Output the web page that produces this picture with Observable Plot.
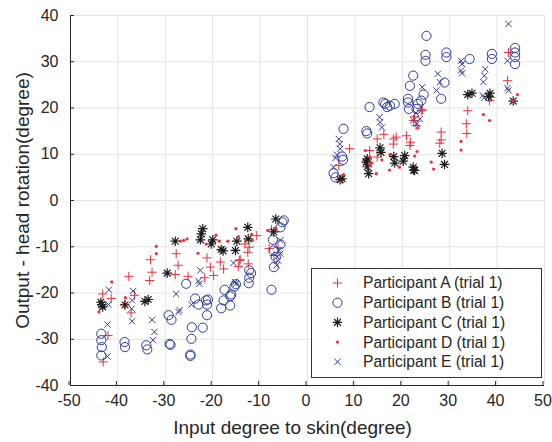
<!DOCTYPE html>
<html>
<head>
<meta charset="utf-8">
<script src="https://cdn.jsdelivr.net/npm/d3@7"></script>
<script src="https://cdn.jsdelivr.net/npm/@observablehq/plot@0.6"></script>
<style>
  body { margin: 0; background: #fff; }
  #chart { width: 552px; height: 442px; }
</style>
</head>
<body>
<div id="chart"></div>
<script>
// Head rotation measured against the angle applied to the skin, one trial per participant.
const seriesNames = [
  "Participant A (trial 1)",
  "Participant B (trial 1)",
  "Participant C (trial 1)",
  "Participant D (trial 1)",
  "Participant E (trial 1)"
];
const xTitle = "Input degree to skin(degree)";
const yTitle = "Output - head rotation(degree)";

// [input degree, output degree]
const partA = [
  [-43.2,-20.2],[-41.4,-21.2],[-42.1,-29.2],[-43.1,-34.9],[-37.7,-16.4],[-38.6,-22.5],[-36.5,-20.5],[-37.2,-24.3],
  [-33.1,-12.8],[-32.8,-15.5],[-33.3,-17.3],[-27.7,-11.5],[-27.3,-14.0],[-27.9,-16.0],[-25.2,-16.4],[-21.2,-12.4],
  [-20.5,-14.4],[-21.7,-16.7],[-18.4,-13.3],[-17.7,-14.8],[-19.8,-16.2],[-14.4,-13.0],[-14.6,-14.3],[-14.2,-12.8],
  [-12.5,-13.7],[-12.6,-11.2],[-13.2,-9.4],[-10.7,-7.6],[-7.6,-6.3],[-8.1,-10.4],[-6.2,-10.2],[-12.3,-10.1],[-7.1,-11.9],
  [8.9,11.2],[6.6,7.6],[14.7,13.3],[16.1,14.3],[13.1,10.8],[12.5,8.6],[14.7,9.4],[18.2,13.3],[18.7,13.7],[18.1,12.2],
  [20.9,14.0],[21.7,12.6],[21.6,11.9],[22.9,16.2],[22.4,17.3],[22.6,18.1],[24.3,19.6],[24.0,19.4],[28.2,14.8],[27.9,12.4],
  [28.2,13.1],[33.8,19.4],[33.5,16.6],[33.6,14.5],[38.4,21.6],[38.7,22.3],[42.2,25.9],[42.4,32.0]
];

const partB = [
  [-43.5,-28.8],[-43.5,-30.2],[-43.4,-31.7],[-43.5,-33.5],[-38.6,-30.6],[-38.5,-31.7],[-34.0,-31.3],[-33.8,-32.2],
  [-29.1,-31.0],[-28.9,-31.2],[-29.3,-24.8],[-28.7,-25.8],[-25.6,-18.0],[-24.4,-27.4],[-24.5,-29.9],[-24.7,-33.3],
  [-24.7,-33.6],[-23.7,-21.2],[-23.0,-22.5],[-21.4,-21.6],[-21.0,-21.4],[-21.2,-22.5],[-21.2,-24.8],[-22.1,-27.5],
  [-18.2,-23.3],[-17.7,-21.6],[-17.5,-19.3],[-16.3,-20.7],[-16.1,-20.3],[-16.3,-22.7],[-15.4,-18.6],[-15.1,-18.1],
  [-12.3,-15.1],[-11.9,-15.7],[-12.3,-16.7],[-12.4,-17.9],[-7.6,-19.3],[-7.1,-14.4],[-6.7,-12.2],[-7.1,-10.8],
  [-5.7,-9.5],[-5.3,-4.7],[-5.0,-4.3],[-5.7,-5.8],[-7.3,-8.5],
  [7.6,15.5],[7.3,9.5],[7.5,8.8],[5.5,5.9],[5.9,5.0],[12.4,15.0],[12.6,14.5],[13.1,20.2],[16.0,21.2],[16.4,20.9],
  [16.8,20.2],[17.4,20.5],[18.4,20.9],[21.2,22.0],[21.4,19.8],[21.2,21.2],[21.6,24.8],[22.3,27.0],[23.0,19.8],
  [24.5,22.9],[24.0,21.6],[23.3,20.9],[24.9,31.5],[24.9,30.2],[25.1,35.6],[29.3,32.0],[29.3,31.0],[34.2,30.6],
  [38.9,31.7],[38.9,30.6],[43.8,33.0],[43.8,32.0],[43.8,31.0],[43.8,29.5],[28.9,25.5],[28.2,22.0]
];

const partC = [
  [-43.4,-22.5],[-43.6,-22.0],[-43.2,-23.0],[-38.5,-22.6],[-34.3,-21.8],[-33.6,-21.4],[-29.6,-15.7],[-27.9,-8.8],
  [-22.1,-6.1],[-22.4,-7.2],[-22.6,-8.5],[-20.0,-8.5],[-20.3,-9.4],[-18.2,-10.6],[-17.8,-10.9],[-15.2,-10.8],
  [-14.9,-8.8],[-12.6,-5.8],[-12.5,-8.3],[-6.7,-4.0],[-7.1,-6.8],
  [6.9,4.5],[7.3,4.7],[12.6,9.0],[12.4,8.3],[12.6,7.3],[12.9,5.8],[15.3,11.4],[15.5,10.4],[18.2,9.5],[18.4,8.1],
  [20.5,9.7],[20.2,8.5],[22.3,7.2],[22.4,6.6],[22.6,6.5],[28.4,10.2],[28.9,7.8],[33.8,22.9],[34.7,23.2],
  [38.5,23.2],[38.2,22.5],[43.4,21.5]
];

const partD = [
  [-44.0,-24.1],[-41.3,-17.6],[-38.4,-21.0],[-31.9,-9.9],[-31.9,-11.5],[-26.8,-8.8],[-26.1,-8.6],[-25.4,-8.3],
  [-23.1,-11.4],[-19.3,-7.5],[-18.6,-8.8],[-16.8,-8.8],[-21.4,-9.4],[-15.1,-6.1],[-14.6,-7.8],[-11.8,-7.3],
  [-11.6,-8.6],[-8.4,-6.5],[-6.7,-5.9],
  [7.6,5.6],[6.9,4.0],[12.2,10.8],[13.2,9.4],[13.6,8.1],[13.2,7.6],[14.5,5.8],[15.7,8.8],[17.4,9.9],[17.3,6.6],
  [19.4,7.2],[22.6,9.6],[23.1,10.6],[23.3,15.7],[26.1,8.3],[26.6,6.8],[32.4,12.8],[32.4,10.9],[37.1,18.6],
  [38.4,17.3],[44.3,22.9],[43.4,21.5]
];

const partE = [
  [-41.9,-19.3],[-42.0,-22.5],[-42.2,-26.8],[-42.2,-33.7],[-36.8,-19.6],[-37.0,-21.6],[-37.1,-23.4],[-37.0,-26.1],
  [-32.8,-25.8],[-32.3,-28.4],[-32.6,-30.2],[-27.7,-20.2],[-27.2,-24.1],[-27.0,-23.7],[-24.5,-22.5],[-22.6,-15.1],
  [-23.0,-17.4],[-22.8,-18.0],[-15.6,-13.5],[-15.3,-17.6],[-15.1,-18.0],[-5.7,-8.6],[-5.7,-11.5],[-6.4,-12.2],
  [-6.0,-10.8],[-6.2,-13.0],[-6.5,-14.0],
  [6.6,13.3],[6.8,12.2],[6.9,11.2],[6.2,9.9],[5.9,9.2],[5.5,7.2],[15.2,18.0],[15.3,16.9],[15.7,15.8],[22.9,18.9],
  [23.7,17.6],[23.1,16.6],[22.3,17.3],[24.2,24.5],[42.4,38.2],[27.5,27.4],[27.9,25.6],[27.2,23.8],[32.4,30.2],
  [32.6,29.5],[32.4,28.1],[32.6,27.5],[37.5,28.4],[37.3,27.0],[37.1,25.6],[37.0,22.7],[37.3,22.2],[42.2,30.2],
  [42.2,24.3],[42.4,23.8]
];

const xTicks = [-50, -40, -30, -20, -10, 0, 10, 20, 30, 40, 50];
const yTicks = [-40, -30, -20, -10, 0, 10, 20, 30, 40];

// Marker shapes sized by radius (Plot passes area = π r²)
const rad = (size) => Math.sqrt(size / Math.PI);
const plusSym = {draw(c, s) { const r = rad(s); c.moveTo(-r, 0); c.lineTo(r, 0); c.moveTo(0, -r); c.lineTo(0, r); }};
const circleSym = {draw(c, s) { const r = rad(s); c.moveTo(r, 0); c.arc(0, 0, r, 0, 2 * Math.PI); }};
const starSym = {draw(c, s) {
  const r = rad(s);
  for (let k = 0; k < 4; ++k) {
    const a = k * Math.PI / 4, dx = r * Math.cos(a), dy = r * Math.sin(a);
    c.moveTo(-dx, -dy); c.lineTo(dx, dy);
  }
}};
const timesSym = {draw(c, s) { const r = rad(s) * Math.SQRT1_2; c.moveTo(-r, -r); c.lineTo(r, r); c.moveTo(-r, r); c.lineTo(r, -r); }};
const dotSym = {draw(c, s) { const r = rad(s); c.moveTo(r, 0); c.arc(0, 0, r, 0, 2 * Math.PI); }};

const red = "#ee2f38", blue = "#2f3b9c", black = "#1c1c1c";
const series = [
  {name: seriesNames[0], data: partA, symbol: plusSym, stroke: red, fill: "none", r: 4.6, sw: 1},
  {name: seriesNames[1], data: partB, symbol: circleSym, stroke: blue, fill: "none", r: 4.6, sw: 1},
  {name: seriesNames[2], data: partC, symbol: starSym, stroke: black, fill: "none", r: 4.8, sw: 1.2},
  {name: seriesNames[3], data: partD, symbol: dotSym, stroke: "none", fill: red, r: 1.6, sw: 1},
  {name: seriesNames[4], data: partE, symbol: timesSym, stroke: blue, fill: "none", r: 4.4, sw: 1}
];

const font = "'Liberation Sans', Arial, Helvetica, sans-serif";
const ink = "#262626";
const plain = (d) => `${d}`; // hyphen-minus for negative ticks

const chart = Plot.plot({
  width: 552,
  height: 442,
  marginLeft: 70,
  marginRight: 8,
  marginTop: 15,
  marginBottom: 57,
  style: {fontFamily: font, fontSize: "16px", color: ink, background: "#fff"},
  x: {domain: [-50, 50]},
  y: {domain: [-40, 40]},
  marks: [
    Plot.gridX(xTicks, {stroke: "#e3e4e8", strokeOpacity: 1}),
    Plot.gridY(yTicks, {stroke: "#e3e4e8", strokeOpacity: 1}),
    Plot.ruleX([-50], {stroke: ink}),
    Plot.ruleY([-40], {stroke: ink}),
    Plot.axisX(xTicks, {
      tickSize: -4, tickPadding: 13, stroke: ink, fill: ink, fontSize: 16, dx: -1.5,
      tickFormat: plain, label: null
    }),
    Plot.axisY(yTicks, {
      tickSize: -4, tickPadding: 16, stroke: ink, fill: ink, fontSize: 16,
      tickFormat: plain, label: null
    }),
    // axis titles
    Plot.text([xTitle], {
      text: (d) => d, frameAnchor: "bottom", dy: 42, dx: -15,
      textAnchor: "middle", lineAnchor: "middle", fontSize: 19, fill: ink
    }),
    Plot.text([yTitle], {
      text: (d) => d, frameAnchor: "left", dx: -48, rotate: -90,
      textAnchor: "middle", lineAnchor: "middle", fontSize: 19, fill: ink
    }),
    ...series.map((s) => Plot.dot(s.data, {
      x: (d) => d[0], y: (d) => d[1],
      symbol: s.symbol, r: s.r, stroke: s.stroke, fill: s.fill, strokeWidth: s.sw
    }))
  ]
});

// Legend box in the lower right of the plot area
const svg = d3.select(chart);
const lg = svg.append("g").attr("transform", "translate(311.5,268.5)");
lg.append("rect").attr("width", 230).attr("height", 109)
  .attr("fill", "#fff").attr("stroke", "#333").attr("stroke-width", 1);
series.forEach((s, i) => {
  const row = lg.append("g").attr("transform", `translate(26,${14.5 + i * 19.7})`);
  row.append("path")
    .attr("d", d3.symbol(s.symbol, Math.PI * s.r * s.r)())
    .attr("fill", s.fill).attr("stroke", s.stroke).attr("stroke-width", s.sw);
  row.append("text").attr("x", 25.5).attr("dy", "0.35em")
    .attr("text-anchor", "start")
    .attr("font-family", font).attr("font-size", 15.6).attr("fill", ink)
    .text(s.name);
});

document.getElementById("chart").append(chart);
</script>
</body>
</html>
